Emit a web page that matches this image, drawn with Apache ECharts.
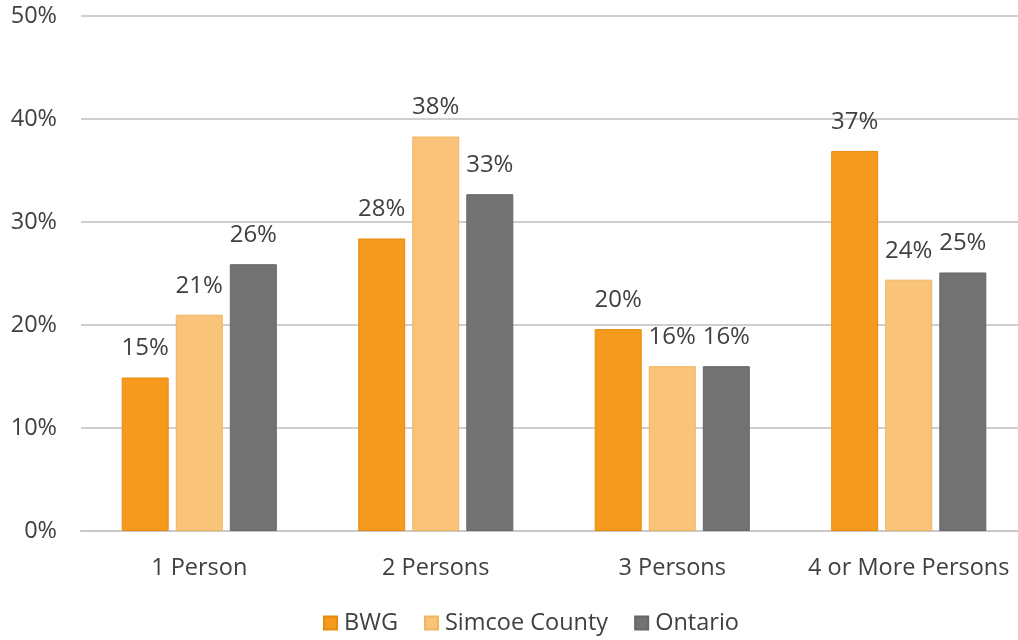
<!DOCTYPE html>
<html><head><meta charset="utf-8">
<script src="https://cdn.jsdelivr.net/npm/echarts@6/dist/echarts.min.js"></script>
<style>html,body{margin:0;padding:0;background:#fff;overflow:hidden}#c{width:1032px;height:640px}</style>
</head><body><div id="c"></div>
<script>
const categories = ['1 Person', '2 Persons', '3 Persons', '4 or More Persons'];
const bwg = [14.9, 28.4, 19.6, 36.9];
const simcoe = [21.0, 38.3, 16.0, 24.4];
const ontario = [25.9, 32.7, 16.0, 25.1];
const yTicks = [0, 10, 20, 30, 40, 50];

const FONT = '"Open Sans", "Liberation Sans", sans-serif';
const TXT = '#404040';
function mk(name, data, color, border) {
  return {
    name, type: 'bar', data, barWidth: 47, barGap: '15%',
    itemStyle: { color, borderColor: border, borderWidth: 1 },
    label: { show: true, position: 'top', distance: 17, color: TXT, fontSize: 24, fontFamily: FONT,
      formatter: p => Math.round(p.value) + '%' }
  };
}
const chart = echarts.init(document.getElementById('c'));
chart.setOption({
  animation: false,
  grid: { left: 81, top: 16, width: 946, bottom: 109, containLabel: false },
  legend: {
    bottom: 0, left: 318, itemWidth: 13, itemHeight: 13, itemGap: 26,
    icon: 'rect',
    textStyle: { color: TXT, fontSize: 23.5, fontFamily: FONT, padding: [0, 0, 0, 2] },
    data: ['BWG', 'Simcoe County', 'Ontario']
  },
  xAxis: {
    type: 'category', data: categories,
    axisLine: { lineStyle: { color: '#c8c8c8', width: 2 } },
    axisTick: { show: false },
    axisLabel: { color: TXT, fontSize: 23.5, fontFamily: FONT, margin: 25, interval: 0 }
  },
  yAxis: {
    type: 'value', min: yTicks[0], max: yTicks[yTicks.length - 1], interval: 10,
    axisLine: { show: false }, axisTick: { show: false },
    axisLabel: { color: TXT, fontSize: 23.5, fontFamily: FONT, margin: 24, formatter: v => v + '%' },
    splitLine: { lineStyle: { color: '#cfcfcf', width: 2 } }
  },
  series: [
    mk('BWG', bwg, '#F59A1D', '#e68a10'),
    mk('Simcoe County', simcoe, '#F9C47A', '#efb560'),
    mk('Ontario', ontario, '#727272', '#666666')
  ]
});
</script></body></html>
